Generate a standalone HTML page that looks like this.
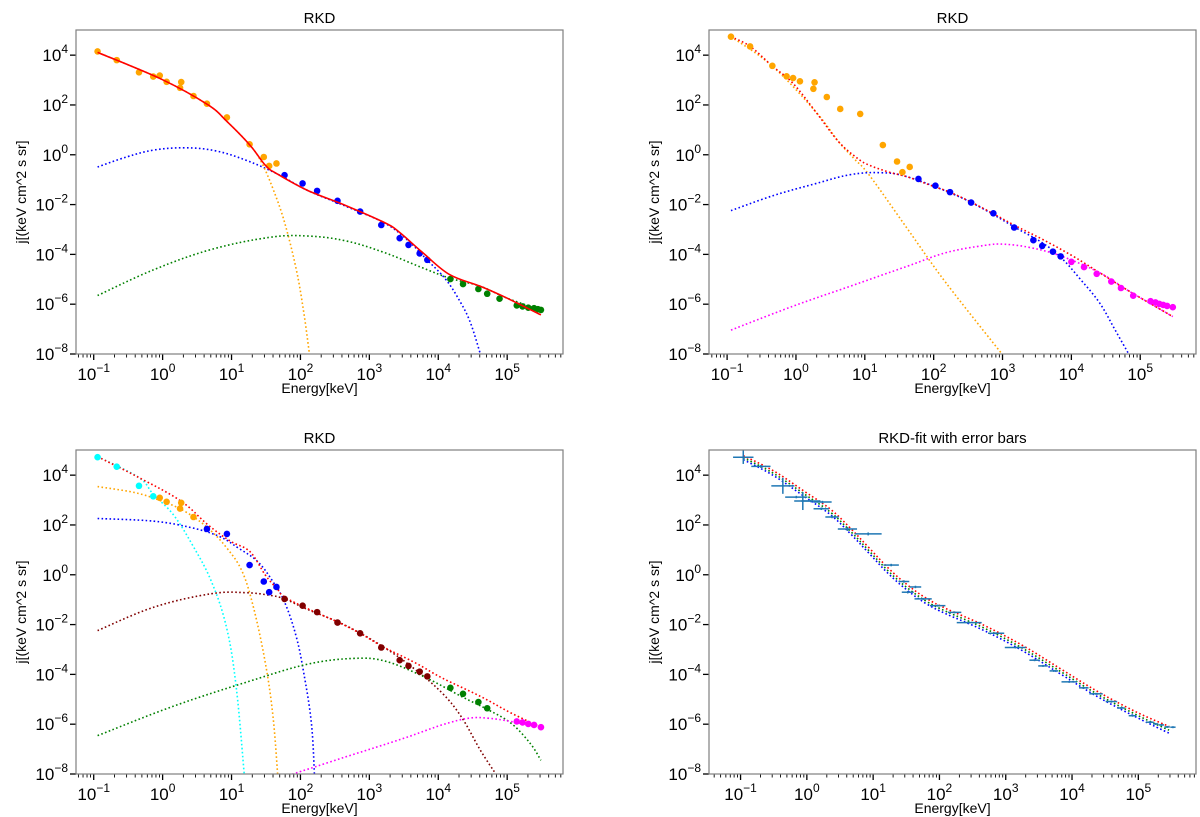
<!DOCTYPE html>
<html><head><meta charset="utf-8"><title>RKD spectra</title>
<style>
html,body{margin:0;padding:0;background:#fff;}
svg{display:block;font-family:"Liberation Sans","DejaVu Sans",sans-serif;}
</style></head>
<body>
<svg id="fig" width="1200" height="817" viewBox="0 0 1200 817" xmlns="http://www.w3.org/2000/svg"></svg>
<script>
// ===== Panel A (top-left) data: log10 energy, log10 flux =====
const aRedLogE   = [-0.944,-0.014,0.655,0.933,1.267,1.490,1.657,2.103,2.660,3.217,3.440,3.774,4.164,4.610,5.0,5.490];
const aRedLogJ   = [4.11,3.03,2.01,1.34,0.39,-0.42,-0.76,-1.43,-2.04,-2.72,-3.12,-3.93,-4.81,-5.28,-5.76,-6.43];
const aBlueLogE  = [-0.944,-0.515,-0.125,0.32,0.766,1.21,1.657,2.103,2.66,3.22,3.55,3.83,4.11,4.33,4.47,4.61];
const aBlueLogJ  = [-0.49,-0.08,0.19,0.28,0.16,-0.22,-0.76,-1.43,-2.07,-2.74,-3.42,-4.2,-5.01,-5.96,-6.77,-7.99];
const aOrangeLogE= [-0.944,-0.014,0.655,0.933,1.267,1.43,1.60,1.77,1.94,2.05,2.13];
const aOrangeLogJ= [4.11,3.03,2.01,1.34,0.39,-0.28,-1.36,-2.72,-4.61,-6.36,-7.99];
const aGreenLogE = [-0.944,-0.125,0.71,1.546,2.10,2.66,3.22,3.77,4.16,4.61,5.0,5.49];
const aGreenLogJ = [-5.65,-4.61,-3.80,-3.32,-3.26,-3.46,-3.93,-4.54,-4.95,-5.28,-5.76,-6.23];
const aPtOrangeE = [-0.944,-0.666,-0.343,-0.136,-0.042,0.058,0.253,0.270,0.448,0.643,0.933,1.262,1.468,1.546,1.652];
const aPtOrangeJ = [4.15,3.80,3.31,3.14,3.18,2.93,2.69,2.92,2.36,2.05,1.50,0.42,-0.09,-0.45,-0.35];
const aPtBlueE   = [1.769,2.031,2.242,2.538,2.866,3.173,3.440,3.568,3.730,3.841];
const aPtBlueJ   = [-0.82,-1.15,-1.45,-1.85,-2.28,-2.82,-3.35,-3.62,-3.96,-4.22];
const aPtGreenE  = [4.176,4.359,4.582,4.710,4.889,5.139,5.223,5.306,5.390,5.446,5.490];
const aPtGreenJ  = [-4.99,-5.19,-5.39,-5.58,-5.78,-6.05,-6.09,-6.14,-6.16,-6.20,-6.23];

// ===== Panel B (top-right) =====
const bRedLogE   = [-0.944,-0.665,-0.347,-0.051,0.283,0.618,0.897,1.065,1.344,1.623,1.958,2.293,2.739,3.185,3.576,4.022,4.413,4.804,5.138,5.473];
const bRedLogJ   = [4.74,4.35,3.57,2.89,1.74,0.53,-0.15,-0.42,-0.69,-0.89,-1.23,-1.57,-2.18,-2.85,-3.39,-4.07,-4.74,-5.42,-5.96,-6.50];
const bOrangeLogE= [-0.944,-0.347,0.283,0.618,0.842,1.065,1.623,2.181,2.99];
const bOrangeLogJ= [4.74,3.57,1.74,0.53,-0.15,-0.82,-2.99,-5.15,-7.99];
const bBlueLogE  = [-0.944,-0.330,0.283,0.786,1.232,1.623,2.293,2.739,3.185,3.576,3.855,4.134,4.413,4.636,4.831];
const bBlueLogJ  = [-2.24,-1.64,-1.16,-0.80,-0.72,-0.89,-1.59,-2.20,-2.92,-3.53,-4.14,-5.01,-5.96,-7.04,-7.99];
const bMagLogE   = [-0.944,-0.051,0.786,1.623,2.181,2.739,3.018,3.409,3.855,4.413,4.804,5.138,5.473];
const bMagLogJ   = [-7.04,-6.09,-5.28,-4.47,-3.93,-3.64,-3.59,-3.73,-4.07,-4.74,-5.42,-5.96,-6.50];
const bPtOrangeE = [-0.944,-0.666,-0.343,-0.136,-0.042,0.058,0.253,0.270,0.448,0.643,0.933,1.262,1.468,1.546,1.652];
const bPtOrangeJ = [4.74,4.35,3.57,3.15,3.08,2.95,2.65,2.91,2.32,1.84,1.64,0.39,-0.27,-0.70,-0.49];
const bPtBlueE   = [1.779,2.025,2.237,2.544,2.867,3.169,3.448,3.576,3.732,3.844];
const bPtBlueJ   = [-0.97,-1.24,-1.50,-1.92,-2.35,-2.92,-3.43,-3.66,-3.89,-4.08];
const bPtMagE    = [4.0,4.184,4.368,4.580,4.720,4.898,5.150,5.222,5.278,5.334,5.390,5.473];
const bPtMagJ    = [-4.30,-4.51,-4.78,-5.09,-5.35,-5.66,-5.88,-5.93,-5.99,-6.03,-6.07,-6.12];

// ===== Panel C (bottom-left) =====
const cRedLogE   = [-0.944,-0.348,0.265,0.655,0.989,1.267,1.490,1.657,1.769,2.103,2.549,2.883,3.217,3.663,4.053,4.610,5.056,5.490];
const cRedLogJ   = [4.74,3.91,2.96,2.01,1.34,0.93,-0.01,-0.55,-0.89,-1.36,-1.91,-2.38,-2.92,-3.53,-4.14,-4.88,-5.55,-6.12];
const cCyanLogE  = [-0.944,-0.348,-0.136,0.153,0.432,0.710,0.933,1.072,1.184];
const cCyanLogJ  = [4.74,3.91,3.23,2.42,1.20,-0.28,-2.18,-4.61,-7.99];
const cOrangeLogE= [-0.944,-0.404,-0.014,0.320,0.655,0.933,1.156,1.323,1.490,1.602,1.669];
const cOrangeLogJ= [3.54,3.30,2.96,2.55,1.88,1.07,0.12,-1.36,-3.53,-5.69,-7.99];
const cBlueLogE  = [-0.944,-0.125,0.432,0.822,1.100,1.379,1.602,1.769,1.936,2.047,2.159,2.203];
const cBlueLogJ  = [2.26,2.15,1.88,1.54,1.07,0.53,-0.28,-1.09,-2.45,-3.93,-5.96,-7.99];
const cMaroonLogE= [-0.944,-0.125,0.710,1.212,1.546,1.769,2.103,2.660,3.217,3.663,4.053,4.332,4.610,4.833];
const cMaroonLogJ= [-2.24,-1.30,-0.76,-0.72,-0.82,-0.97,-1.39,-2.04,-2.92,-3.80,-4.74,-5.69,-7.04,-7.99];
const cGreenLogE = [-0.944,0.153,1.267,2.103,2.772,3.217,3.774,4.332,4.721,5.056,5.334,5.490];
const cGreenLogJ = [-6.46,-5.28,-4.27,-3.59,-3.36,-3.46,-4.07,-4.88,-5.42,-5.96,-6.77,-7.45];
const cMagLogE   = [1.880,2.660,3.496,4.053,4.443,4.721,5.056,5.490];
const cMagLogJ   = [-8.01,-7.31,-6.57,-6.03,-5.76,-5.76,-5.89,-6.12];
const cPtCyanE   = [-0.944,-0.666,-0.343,-0.136];
const cPtCyanJ   = [4.72,4.34,3.57,3.15];
const cPtOrangeE = [-0.042,0.058,0.253,0.270,0.448];
const cPtOrangeJ = [3.09,2.93,2.66,2.89,2.32];
const cPtBlueE   = [0.643,0.933,1.262,1.468,1.546,1.652];
const cPtBlueJ   = [1.84,1.64,0.39,-0.27,-0.70,-0.49];
const cPtMaroonE = [1.769,2.031,2.242,2.538,2.866,3.173,3.440,3.568,3.730,3.841];
const cPtMaroonJ = [-0.97,-1.24,-1.50,-1.92,-2.35,-2.92,-3.43,-3.66,-3.89,-4.08];
const cPtGreenE  = [4.176,4.359,4.582,4.710];
const cPtGreenJ  = [-4.54,-4.78,-5.11,-5.36];
const cPtMagE    = [5.139,5.223,5.306,5.390,5.490];
const cPtMagJ    = [-5.89,-5.93,-5.99,-6.03,-6.12];

// ===== Panel D (bottom-right, fit with error bars) =====
const dFitLogE   = [-0.959,-0.507,-0.043,0.362,0.652,0.942,1.232,1.522,1.812,2.101,2.681,3.261,3.841,4.420,5.0,5.464];
const dRedLogJ   = [4.78,4.18,3.36,2.62,1.88,1.07,0.26,-0.42,-0.96,-1.36,-2.04,-2.85,-3.80,-4.74,-5.55,-6.09];
const dGreenLogJ = [4.70,4.08,3.25,2.50,1.76,0.95,0.14,-0.54,-1.08,-1.47,-2.15,-2.96,-3.91,-4.85,-5.66,-6.24];
const dBlueLogJ  = [4.62,3.99,3.15,2.40,1.66,0.85,0.04,-0.64,-1.18,-1.57,-2.25,-3.06,-4.01,-4.95,-5.76,-6.36];
const dErrLogE   = [-0.959,-0.693,-0.362,-0.159,-0.061,0.061,0.235,0.217,0.380,0.612,0.925,1.272,1.464,1.522,1.638,1.754,1.974,2.229,2.449,2.855,3.145,3.435,3.562,3.725,3.957,4.177,4.362,4.594,4.739,4.913,5.174,5.261,5.348,5.435,5.522];
const dErrLogJ   = [4.72,4.35,3.57,3.12,2.96,2.96,2.92,2.65,2.32,1.84,1.64,0.39,-0.27,-0.70,-0.49,-0.97,-1.24,-1.51,-1.92,-2.35,-2.92,-3.43,-3.66,-3.86,-4.30,-4.54,-4.78,-5.09,-5.35,-5.66,-5.92,-5.99,-6.03,-6.11,-6.12];
const dErrXHalf  = [0.154,0.145,0.174,0.168,0.13,0.145,0.139,0.116,0.101,0.145,0.203,0.116,0.081,0.090,0.087,0.130,0.116,0.101,0.188,0.122,0.159,0.078,0.072,0.064,0.116,0.072,0.101,0.087,0.058,0.058,0.058,0.04,0.04,0.04,0.04];
const dErrYHalf  = [0.27,0.06,0.32,0.05,0.36,0.05,0.05,0.05,0.05,0.08,0.06,0.05,0.05,0.05,0.05,0.04,0.04,0.04,0.04,0.04,0.04,0.04,0.04,0.04,0.04,0.04,0.04,0.04,0.04,0.04,0.04,0.04,0.04,0.04,0.04];

const yTickExps = [4,2,0,-2,-4,-6,-8];
const xTickExps = [-1,0,1,2,3,4,5];

const NS = "http://www.w3.org/2000/svg";
const fig = document.getElementById('fig');
function el(tag, attrs, parent){
  const e = document.createElementNS(NS, tag);
  for (const k in attrs) e.setAttribute(k, attrs[k]);
  (parent||fig).appendChild(e);
  return e;
}
function powLabel(g, x, y, exp, anchor){
  const t = el('text', {x:x, y:y, 'font-size':17, 'text-anchor':anchor, fill:'#000'}, g);
  t.appendChild(document.createTextNode('10'));
  const s = el('tspan', {dy:-8, 'font-size':12}, t);
  s.textContent = exp < 0 ? '\u2212' + Math.abs(exp) : String(exp);
  return t;
}

function makePanel(name, geo, title){
  const g = el('g', {});
  
  
  const L=geo.left, R=geo.right, T=geo.top, B=geo.bottom;
  const sx = v => L + (v - geo.xmin) / (geo.xmax - geo.xmin) * (R - L);
  const sy = v => B - (v - geo.ymin) / (geo.ymax - geo.ymin) * (B - T);
  const tt = el('text', {x:(L+R)/2, y:T-7, 'font-size':15, 'text-anchor':'middle', fill:'#000'}, g);
  tt.textContent = title;
  
  
  const cid = name + '-clip';
  const cp = el('clipPath', {id:cid}, g);
  el('rect', {x:L, y:T, width:R-L, height:B-T}, cp);
  const yax = el('g', {}, g);
  
  
  yTickExps.forEach(e => {
    const y = sy(e);
    el('line', {x1:L-6, x2:L, y1:y, y2:y, stroke:'#000', 'stroke-width':1.3}, yax);
    powLabel(yax, L-8, y+6, e, 'end');
  });
  const xax = el('g', {}, g);
  
  
  for (let d = Math.floor(geo.xmin); d <= Math.ceil(geo.xmax); d++){
    for (let k = 2; k <= 9; k++){
      const v = d + Math.log10(k);
      if (v > geo.xmin && v < geo.xmax){
        const x = sx(v);
        el('line', {x1:x, x2:x, y1:B, y2:B+3.5, stroke:'#000', 'stroke-width':0.9}, xax);
      }
    }
  }
  xTickExps.forEach(e => {
    const x = sx(e);
    el('line', {x1:x, x2:x, y1:B, y2:B+6, stroke:'#000', 'stroke-width':1.3}, xax);
    powLabel(xax, x, B+26, e, 'middle');
  });
  const xl = el('text', {x:(L+R)/2, y:B+39, 'font-size':14, 'text-anchor':'middle', fill:'#000'}, g);
  xl.textContent = 'Energy[keV]';
  
  
  const yl = el('text', {x:0, y:0, 'font-size':14, 'text-anchor':'middle', fill:'#000',
    transform:'translate(' + (L-50) + ',' + ((T+B)/2) + ') rotate(-90)'}, g);
  yl.textContent = 'j[(keV cm^2 s sr]';
  
  
  const plot = el('g', {'clip-path':'url(#' + cid + ')'}, g);
  
  
  const frame = el('rect', {x:L, y:T, width:R-L, height:B-T, fill:'none', stroke:'#7f7f7f', 'stroke-width':1.2}, g);
  
  
  return {g:g, plot:plot, sx:sx, sy:sy};
}

function smoothPath(pts){
  let d = 'M' + pts[0][0].toFixed(1) + ',' + pts[0][1].toFixed(1);
  for (let i = 0; i < pts.length - 1; i++){
    const p0 = pts[Math.max(0,i-1)], p1 = pts[i], p2 = pts[i+1], p3 = pts[Math.min(pts.length-1,i+2)];
    const t = 0.18;
    const c1 = [p1[0] + (p2[0]-p0[0])*t, p1[1] + (p2[1]-p0[1])*t];
    const c2 = [p2[0] - (p3[0]-p1[0])*t, p2[1] - (p3[1]-p1[1])*t];
    d += ' C' + c1[0].toFixed(1) + ',' + c1[1].toFixed(1) + ' ' + c2[0].toFixed(1) + ',' + c2[1].toFixed(1) + ' ' + p2[0].toFixed(1) + ',' + p2[1].toFixed(1);
  }
  return d;
}
function curve(p, xs, ys, color, dotted, nm){
  const pts = xs.map((x,i) => [p.sx(x), p.sy(ys[i])]);
  const path = el('path', {d:smoothPath(pts), fill:'none', stroke:color, 'stroke-width':1.6,
    'stroke-dasharray':dotted?'1.6 2.4':'none', 'stroke-linejoin':'round'}, p.plot);
  
  
}
function points(p, xs, ys, color, nm){
  const gg = el('g', {fill:color}, p.plot);
  
  
  xs.forEach((x,i) => {
    const c = el('circle', {cx:p.sx(x), cy:p.sy(ys[i]), r:3.3}, gg);
    
    
  });
}

const geoL = {left:76, right:563, xmin:-1.257, xmax:5.81, ymin:-8, ymax:5.01};
const geoTR = {left:709, right:1196, xmin:-1.263, xmax:5.81, ymin:-8, ymax:5.01};
const geoBR = {left:709, right:1196, xmin:-1.476, xmax:5.87, ymin:-8, ymax:5.01};

const C_OR='#ffa500', C_BL='#0000ff', C_GR='#008000', C_RD='#ff0000', C_MG='#ff00ff', C_CY='#00ffff', C_MR='#800000', C_EB='#1f77b4';

const pA = makePanel('panel-top-left', Object.assign({top:30, bottom:354}, geoL), 'RKD');
curve(pA, aBlueLogE, aBlueLogJ, C_BL, true, 'blue-component-curve');
curve(pA, aOrangeLogE, aOrangeLogJ, C_OR, true, 'orange-component-curve');
curve(pA, aGreenLogE, aGreenLogJ, C_GR, true, 'green-component-curve');
points(pA, aPtOrangeE, aPtOrangeJ, C_OR, 'orange-data-points');
points(pA, aPtBlueE, aPtBlueJ, C_BL, 'blue-data-points');
points(pA, aPtGreenE, aPtGreenJ, C_GR, 'green-data-points');
curve(pA, aRedLogE, aRedLogJ, C_RD, false, 'total-fit-curve');

const pB = makePanel('panel-top-right', Object.assign({top:30, bottom:354}, geoTR), 'RKD');
curve(pB, bOrangeLogE, bOrangeLogJ, C_OR, true, 'orange-component-curve');
curve(pB, bBlueLogE, bBlueLogJ, C_BL, true, 'blue-component-curve');
curve(pB, bMagLogE, bMagLogJ, C_MG, true, 'magenta-component-curve');
curve(pB, bRedLogE, bRedLogJ, C_RD, true, 'total-fit-curve');
points(pB, bPtOrangeE, bPtOrangeJ, C_OR, 'orange-data-points');
points(pB, bPtBlueE, bPtBlueJ, C_BL, 'blue-data-points');
points(pB, bPtMagE, bPtMagJ, C_MG, 'magenta-data-points');

const pC = makePanel('panel-bottom-left', Object.assign({top:450, bottom:774}, geoL), 'RKD');
curve(pC, cCyanLogE, cCyanLogJ, C_CY, true, 'cyan-component-curve');
curve(pC, cOrangeLogE, cOrangeLogJ, C_OR, true, 'orange-component-curve');
curve(pC, cBlueLogE, cBlueLogJ, C_BL, true, 'blue-component-curve');
curve(pC, cMaroonLogE, cMaroonLogJ, C_MR, true, 'maroon-component-curve');
curve(pC, cGreenLogE, cGreenLogJ, C_GR, true, 'green-component-curve');
curve(pC, cMagLogE, cMagLogJ, C_MG, true, 'magenta-component-curve');
curve(pC, cRedLogE, cRedLogJ, C_RD, true, 'total-fit-curve');
points(pC, cPtCyanE, cPtCyanJ, C_CY, 'cyan-data-points');
points(pC, cPtOrangeE, cPtOrangeJ, C_OR, 'orange-data-points');
points(pC, cPtBlueE, cPtBlueJ, C_BL, 'blue-data-points');
points(pC, cPtMaroonE, cPtMaroonJ, C_MR, 'maroon-data-points');
points(pC, cPtGreenE, cPtGreenJ, C_GR, 'green-data-points');
points(pC, cPtMagE, cPtMagJ, C_MG, 'magenta-data-points');

const pD = makePanel('panel-bottom-right', Object.assign({top:450, bottom:774}, geoBR), 'RKD-fit with error bars');
curve(pD, dFitLogE, dBlueLogJ, C_BL, true, 'blue-fit-curve');
curve(pD, dFitLogE, dGreenLogJ, C_GR, true, 'green-fit-curve');
curve(pD, dFitLogE, dRedLogJ, C_RD, true, 'red-fit-curve');
const eg = el('g', {stroke:C_EB, 'stroke-width':1.5}, pD.plot);


dErrLogE.forEach((x,i) => {
  const y = dErrLogJ[i];
  const h = el('line', {x1:pD.sx(x - dErrXHalf[i]), x2:pD.sx(x + dErrXHalf[i]), y1:pD.sy(y), y2:pD.sy(y)}, eg);
  
  
  const v = el('line', {x1:pD.sx(x), x2:pD.sx(x), y1:pD.sy(y - dErrYHalf[i]), y2:pD.sy(y + dErrYHalf[i])}, eg);
  
  
});
</script>
</body></html>
